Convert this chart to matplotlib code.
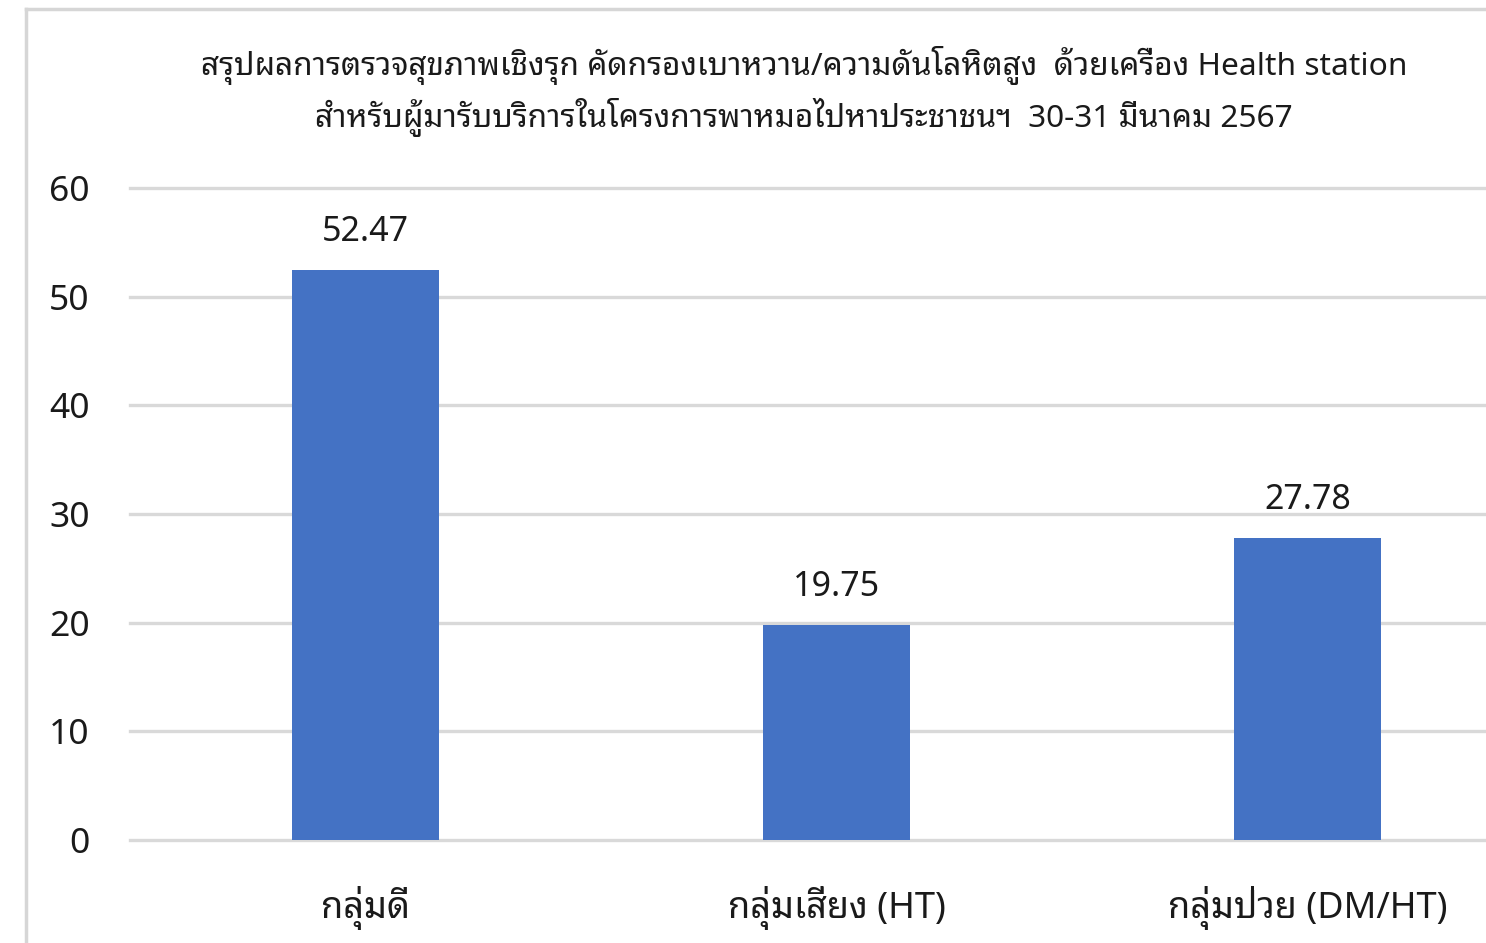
import matplotlib
matplotlib.use("Agg")
import matplotlib.pyplot as plt
import numpy as np

plt.rcParams['font.family'] = ['Noto Sans Thai Looped', 'DejaVu Sans']

categories = ["กลุ่มดี", "กลุ่มเสี่ยง (HT)", "กลุ่มป่วย (DM/HT)"]
values = [52.47, 19.75, 27.78]
yticks = [0, 10, 20, 30, 40, 50, 60]
title = ("สรุปผลการตรวจสุขภาพเชิงรุก คัดกรองเบาหวาน/ความดันโลหิตสูง  ด้วยเครื่อง Health station\n"
         "สำหรับผู้มารับบริการในโครงการพาหมอไปหาประชาชนฯ  30-31 มีนาคม 2567")

fig = plt.figure(figsize=(14.86, 9.43), dpi=100)
ax = fig.add_axes([0.0875, 0.1092, 0.951, 0.6914])

x = np.arange(len(categories))
bars = ax.bar(x, values, width=0.312, color="#4472C4", zorder=3)
for b, v in zip(bars, values):
    ax.text(b.get_x() + b.get_width() / 2, v + 3.5, f"{v:.2f}",
            ha="center", va="center", fontsize=24.5, color="#1a1a1a")

ax.set_xlim(-0.5, 2.5)
ax.set_ylim(0, 60)
ax.set_yticks(yticks)
ax.set_xticks(x)
ax.set_xticklabels(categories)
ax.tick_params(axis="y", length=0, pad=29, labelsize=25.5, labelcolor="#1a1a1a")
ax.tick_params(axis="x", length=0, pad=33, labelsize=26, labelcolor="#1a1a1a")
ax.grid(axis="y", color="#d9d9d9", linewidth=2.4, zorder=0)
for gl in ax.get_ygridlines():
    gl.set_clip_on(False)
for s in ax.spines.values():
    s.set_visible(False)

fig.text(0.541, 0.903, title, ha="center", va="center", fontsize=22.8,
         linespacing=1.45, color="#1a1a1a")

# frame of the chart area
fig.add_artist(plt.Line2D([0.0175, 0.0175], [0, 0.99], color="#d6d6d6", lw=2.5))
fig.add_artist(plt.Line2D([0.0175, 1], [0.99, 0.99], color="#d6d6d6", lw=2.5))

fig.savefig("out.png")
